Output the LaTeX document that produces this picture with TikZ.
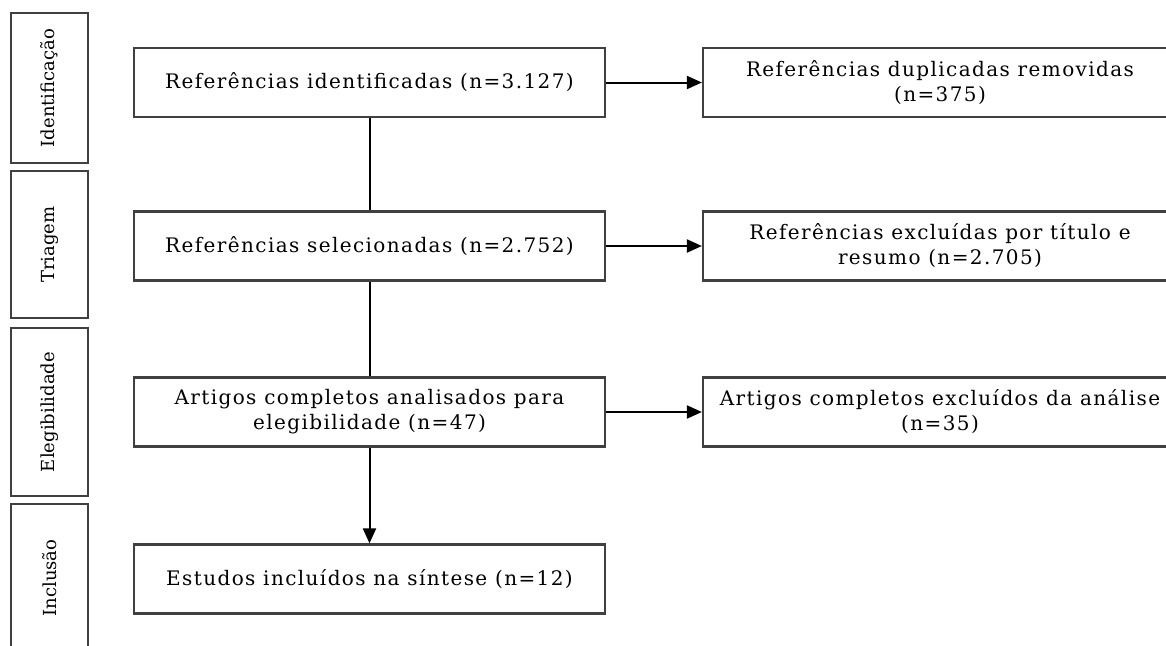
\documentclass[tikz,border=0pt]{standalone}
\usepackage{fontspec}
\setmainfont[LetterSpace=7]{DejaVu Serif}
\newfontfamily\labfont{DejaVu Serif}
\usetikzlibrary{arrows.meta}
\begin{document}
\begin{tikzpicture}[x=1pt,y=-1pt,
  box/.style={draw=black!75,line width=2.2pt,fill=white,inner sep=0pt,align=center,font=\fontsize{20}{25}\selectfont},
  stagebox/.style={box,font=\labfont\fontsize{18}{22}\selectfont,minimum height=77pt,rotate=90},
  mainbox/.style={box,minimum width=471pt,minimum height=69pt},
  sidebox/.style={box,minimum width=474pt,minimum height=69pt},
  conn/.style={line width=2pt,draw=black},
  arr/.style={conn,-{Triangle[length=15pt,width=13pt]}}]
\useasboundingbox (0,0) rectangle (1166,645);
% stage labels
\node[stagebox,minimum width=150pt] (s1) at (49.5,88) {Identificação};
\node[stagebox,minimum width=147pt] (s2) at (49.5,244.5) {Triagem};
\node[stagebox,minimum width=168pt] (s3) at (49.5,412) {Elegibilidade};
\node[stagebox,minimum width=148pt] (s4) at (49.5,578) {Inclusão};
% main column
\node[mainbox] (m1) at (369.5,82.5) {Referências identificadas (n=3.127)};
\node[mainbox] (m2) at (369.5,246) {Referências selecionadas (n=2.752)};
\node[mainbox] (m3) at (369.5,412) {Artigos completos analisados para\\elegibilidade (n=47)};
\node[mainbox] (m4) at (369.5,579) {Estudos incluídos na síntese (n=12)};
% side column
\node[sidebox] (r1) at (940,82.5) {Referências duplicadas removidas\\(n=375)};
\node[sidebox] (r2) at (940,246) {Referências excluídas por título e\\resumo (n=2.705)};
\node[sidebox] (r3) at (940,412) {Artigos completos excluídos da análise\\(n=35)};
% connectors
\draw[conn] (m1.south) -- (m2.north);
\draw[conn] (m2.south) -- (m3.north);
\draw[arr] (m3.south) -- (m4.north);
\draw[arr] (m1.east) -- (r1.west);
\draw[arr] (m2.east) -- (r2.west);
\draw[arr] (m3.east) -- (r3.west);
\end{tikzpicture}
\end{document}
